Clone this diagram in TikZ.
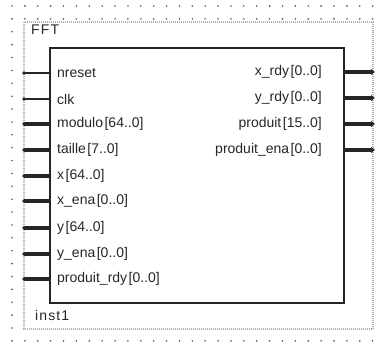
\documentclass[tikz,border=0pt]{standalone}
\usepackage{fontspec}
\setmainfont{Liberation Sans}
\usetikzlibrary{arrows.meta}
\definecolor{ink}{HTML}{262626}
\definecolor{griddot}{HTML}{555555}
\definecolor{framegray}{HTML}{B0B0B0}
\newcommand{\busrange}[1]{\hspace{1.5pt}[#1]}
\tikzset{
  symbolbox/.style={draw=ink, line width=1.7pt, minimum width=294pt, minimum height=255pt, inner sep=0pt},
  instframe/.style={draw=framegray, line width=1.6pt, dash pattern=on 1pt off 1pt},
  pinlabel/.style={text=ink, inner sep=0pt, font=\fontsize{14}{16}\selectfont},
  titlelabel/.style={text=ink, inner sep=0pt, font=\fontsize{14}{16}\selectfont\addfontfeatures{LetterSpace=8}},
  thinpin/.style={draw=ink, line width=1.2pt},
  buspin/.style={draw=ink, line width=3.2pt},
  outpin/.style={draw=ink, line width=3.2pt, -{Latex[length=4pt,width=7pt]}},
  pinend/.style={fill=ink, draw=none},
}
\begin{document}
\begin{tikzpicture}[x=1pt, y=-1pt]
  \useasboundingbox (0,0) rectangle (379,343);
  % editor grid
  \foreach \i in {0,...,28} {
    \foreach \j in {0,...,26} {
      \fill[griddot] ({12+12.88*\i},{6+12.88*\j}) circle (0.9pt);
    }
  }
  % instance frame
  \fill[white] (24,22) rectangle (373,329);
  \draw[instframe] (24,22) rectangle (373,329);
  \node[titlelabel, anchor=west] (title) at (31,30) {FFT};
  \node[titlelabel, anchor=west] (inst) at (35,315) {inst1};
  % symbol body
  \node[symbolbox] (fft) at (197,175.5) {};
  % input pins
  \foreach \name/\txt/\y/\sty in {
      nreset/nreset/73/thinpin,
      clk/clk/99/thinpin,
      modulo/{modulo\busrange{64..0}}/124/buspin,
      taille/{taille\busrange{7..0}}/150/buspin,
      x/{x\busrange{64..0}}/176/buspin,
      xena/{x\_ena\busrange{0..0}}/201/buspin,
      y/{y\busrange{64..0}}/228/buspin,
      yena/{y\_ena\busrange{0..0}}/254/buspin,
      prdy/{produit\_rdy\busrange{0..0}}/279/buspin} {
    \coordinate (in-\name) at (24,\y);
    \fill[pinend] (in-\name) circle (1.8pt);
    \draw[\sty] (in-\name) -- (in-\name -| fft.west);
    \node[pinlabel, anchor=west] (lbl-\name) at (57,\y) {\txt};
  }
  % output pins
  \foreach \name/\txt/\y in {
      xrdy/{x\_rdy\busrange{0..0}}/72,
      yrdy/{y\_rdy\busrange{0..0}}/98,
      produit/{produit\busrange{15..0}}/124,
      pena/{produit\_ena\busrange{0..0}}/150} {
    \coordinate (out-\name) at (375,\y);
    \draw[outpin] (out-\name -| fft.east) -- (out-\name);
    \node[pinlabel, anchor=east] (lbl-\name) at (322,\y) {\txt};
  }
\end{tikzpicture}
\end{document}
